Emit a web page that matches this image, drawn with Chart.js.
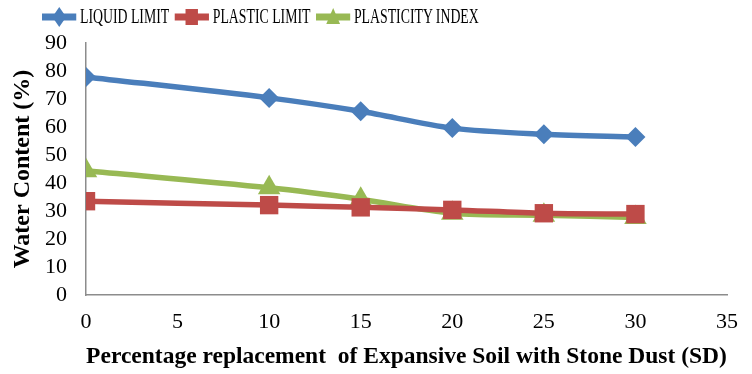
<!DOCTYPE html>
<html lang="en">
<head>
  <meta charset="UTF-8" />
  <title>Water content vs stone dust replacement</title>
  <script src="https://cdn.jsdelivr.net/npm/chart.js"></script>
  <style>
    body {
      margin: 0;
      padding: 0;
      background: #ffffff;
      font-family: 'Liberation Serif', 'Times New Roman', serif;
    }
    .wrap {
      position: relative;
      width: 752px;
      height: 374px;
    }
    .legend {
      position: absolute;
      top: 5px;
      left: 42px;
      display: flex;
      align-items: center;
      font-size: 20px;
      color: #000;
      white-space: nowrap;
      transform: scaleX(0.69);
      transform-origin: left center;
    }
    .legend .item {
      display: flex;
      align-items: center;
      margin-right: 8px;
    }
    .legend svg {
      margin-right: 5px;
    }
  </style>
</head>
<body>
  <div class="wrap">
    <canvas id="chart" width="752" height="374"></canvas>
    <div class="legend" id="legend"></div>
  </div>

  <script>
    // data
    const replacement = [0, 10, 15, 20, 25, 30];
    const liquidLimit = [77.9, 70.4, 65.6, 59.6, 57.4, 56.4];
    const plasticLimit = [33.5, 32.1, 31.3, 30.4, 29.2, 28.9];
    const plasticityIndex = [44.4, 38.3, 34.2, 29.2, 28.5, 27.7];

    const xTicks = [0, 5, 10, 15, 20, 25, 30, 35];
    const yTicks = [0, 10, 20, 30, 40, 50, 60, 70, 80, 90];

    const series = [
      { label: 'LIQUID LIMIT', values: liquidLimit, color: '#4A7EBB', style: 'rectRot', radius: 10 },
      { label: 'PLASTIC LIMIT', values: plasticLimit, color: '#BE4B48', style: 'rect', radius: 13 },
      { label: 'PLASTICITY INDEX', values: plasticityIndex, color: '#98B954', style: 'triangle', radius: 13 }
    ];

    function toPoints(values) {
      return replacement.map((x, i) => ({ x: x, y: values[i] }));
    }

    const ctx = document.getElementById('chart').getContext('2d');
    const chart = new Chart(ctx, {
      type: 'line',
      data: {
        datasets: series.map(s => ({
          label: s.label,
          data: toPoints(s.values),
          borderColor: s.color,
          backgroundColor: s.color,
          borderWidth: 5.5,
          tension: 0.3,
          pointStyle: s.style,
          pointRadius: s.radius,
          pointBorderWidth: 0,
          pointBackgroundColor: s.color,
          fill: false
        }))
      },
      options: {
        responsive: false,
        animation: false,
        layout: { padding: { left: 0, right: 14, top: 43, bottom: 0 } },
        plugins: {
          legend: { display: false },
          tooltip: { enabled: false }
        },
        scales: {
          x: {
            type: 'linear',
            min: 0,
            max: 35,
            afterFit: scale => { scale.height = 79; },
            afterBuildTicks: scale => { scale.ticks = xTicks.map(v => ({ value: v })); },
            grid: { display: false, drawTicks: false },
            border: { display: true, color: '#8c8c8c', width: 1.5 },
            ticks: {
              autoSkip: false,
              maxRotation: 0,
              padding: 14,
              color: '#000',
              font: { family: 'Liberation Serif', size: 22 }
            },
            title: {
              display: true,
              text: 'Percentage replacement  of Expansive Soil with Stone Dust (SD)',
              color: '#000',
              font: { family: 'Liberation Serif', size: 23.5, weight: 'bold' },
              padding: { top: 0, bottom: 3 }
            }
          },
          y: {
            min: 0,
            max: 90,
            afterFit: scale => { scale.width = 86; },
            afterBuildTicks: scale => { scale.ticks = yTicks.map(v => ({ value: v })); },
            grid: { display: false, drawTicks: false },
            border: { display: true, color: '#8c8c8c', width: 1.5 },
            ticks: {
              autoSkip: false,
              padding: 19,
              color: '#000',
              font: { family: 'Liberation Serif', size: 22 }
            },
            title: {
              display: true,
              text: 'Water Content (%)',
              color: '#000',
              font: { family: 'Liberation Serif', size: 24, weight: 'bold' },
              padding: { top: 8, bottom: 0 }
            }
          }
        }
      }
    });

    // Excel-style legend: line sample with the marker in the middle
    function markerSvg(s) {
      let shape = '';
      if (s.style === 'rectRot') {
        shape = '<polygon points="25,1 35,11 25,21 15,11" fill="' + s.color + '"/>';
      } else if (s.style === 'rect') {
        shape = '<rect x="16" y="3" width="18" height="16" fill="' + s.color + '"/>';
      } else {
        shape = '<polygon points="25,2 35,18 15,18" fill="' + s.color + '"/>';
      }
      return '<svg width="50" height="22"><line x1="0" y1="11" x2="50" y2="11" stroke="' +
        s.color + '" stroke-width="7"/>' + shape + '</svg>';
    }

    const legend = document.getElementById('legend');
    series.forEach(s => {
      const item = document.createElement('div');
      item.className = 'item';
      item.innerHTML = markerSvg(s) + '<span>' + s.label + '</span>';
      legend.appendChild(item);
    });
  </script>
</body>
</html>
